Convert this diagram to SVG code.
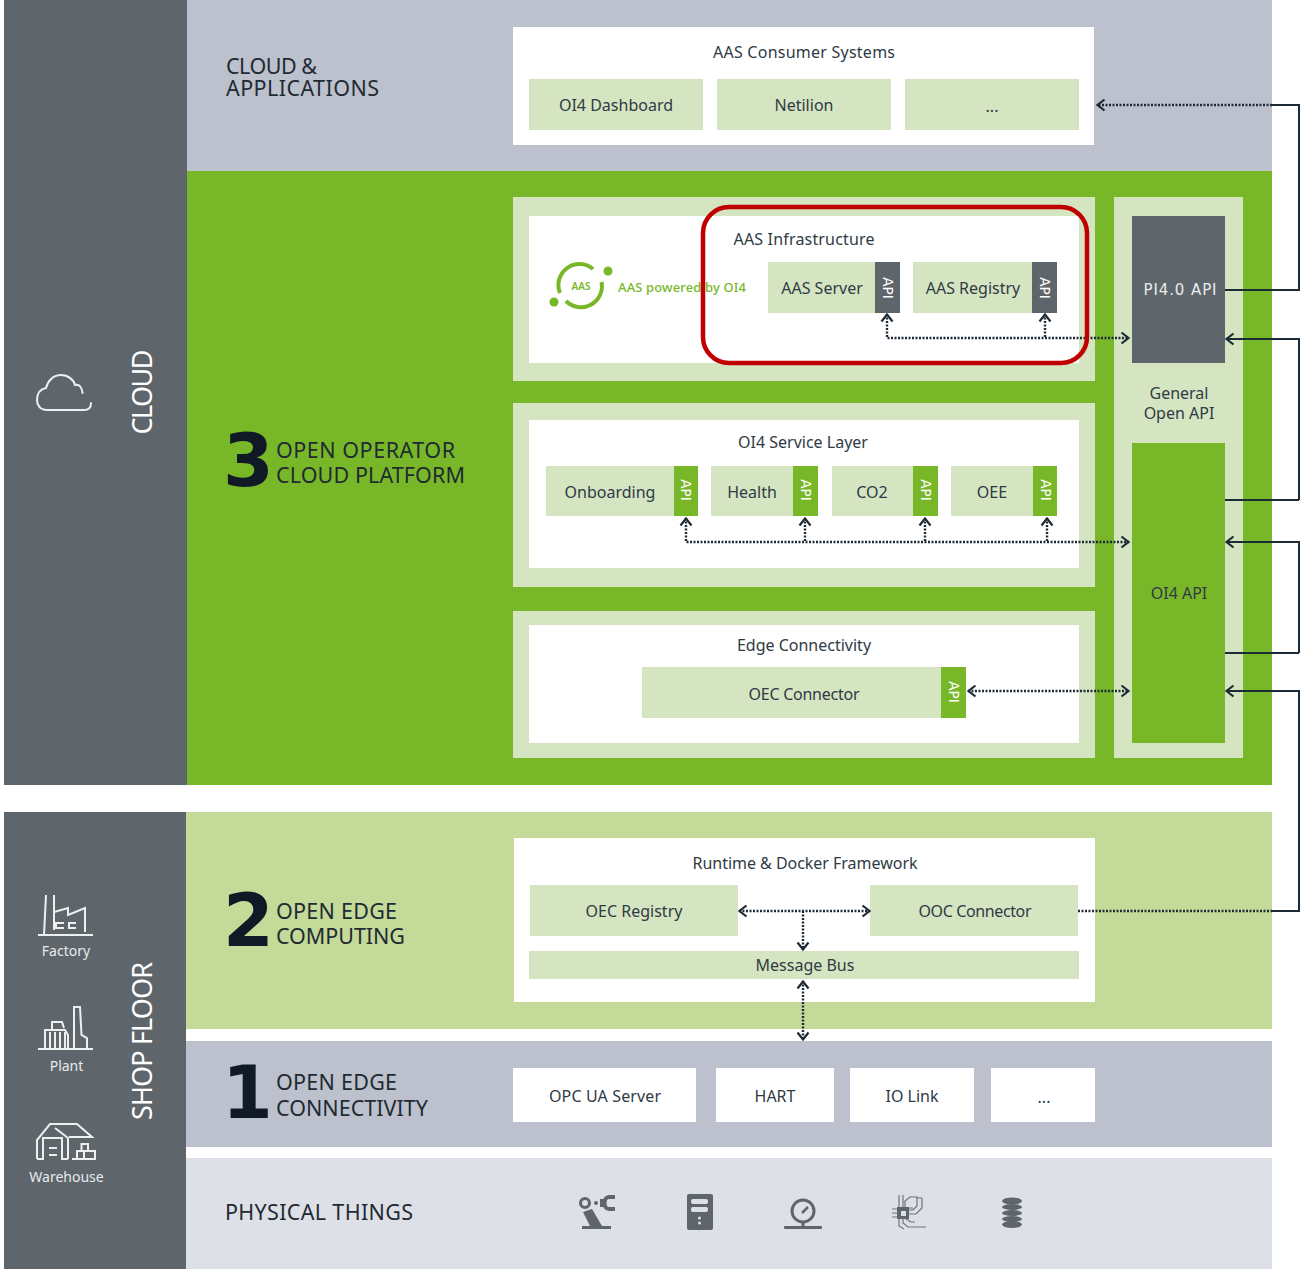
<svg xmlns="http://www.w3.org/2000/svg" width="1303" height="1269" viewBox="0 0 1303 1269">
<style>
text{font-family:"Noto Sans","Open Sans","Liberation Sans",sans-serif;fill:#2f3a44;font-size:16px}
.m{text-anchor:middle}
.h{font-size:21.5px;fill:#1f2a33}
.n{font-size:73px;font-weight:700;fill:#101a26;font-family:"DejaVu Sans",sans-serif}
.sm{font-size:14px;fill:#e8eaeb}
.api{font-size:13.500px;fill:#fff;font-family:"DejaVu Sans",sans-serif}
.side{fill:#fff;font-size:27px;text-anchor:middle}
.pale{fill:#d5e5c2}
.white{fill:#fff}
.grey{fill:#5f666b}
.green{fill:#78b828}
.ln{fill:none;stroke:#1d2b36;stroke-width:2}
.dot{fill:none;stroke:#1d2b36;stroke-width:2.400;stroke-dasharray:2 1.500}
.ic{fill:none;stroke:#eef0f0;stroke-width:2}
.ph{fill:#5f666b}
.phl{fill:none;stroke:#5f666b;stroke-width:3}
</style>
<defs>
<marker id="a" viewBox="0 0 12 14" refX="10.500" refY="7" markerWidth="12" markerHeight="14" markerUnits="userSpaceOnUse" orient="auto-start-reverse">
<path d="M3 1.500L10 7L3 12.500" fill="none" stroke="#1d2b36" stroke-width="2.200"/>
</marker>
</defs>
<rect width="1303" height="1269" fill="#fff"/>
<g id="bands">
<rect x="187" y="0" width="1085" height="171" fill="#bcc1cd"/>
<rect x="187" y="171" width="1085" height="614" fill="#78b828"/>
<rect x="186" y="812" width="1086" height="217" fill="#c4da98"/>
<rect x="186" y="1041" width="1086" height="106" fill="#bcc1cd"/>
<rect x="186" y="1158" width="1086" height="111" fill="#dde0e7"/>
</g>
<g id="cloud-column">
<rect x="4" y="0" width="183" height="785" fill="#5f666b"/>
<path class="ic" d="M91 403C91 408 88 410 84 410H47C40 410 37 405 37 400C37 393 41 389 46 388C48 380 54 375 61 375C68 375 74 380 75 385C80 384 82 388 82.500 393" stroke-linecap="round"/>
<text class="side" transform="translate(152,392) rotate(-90)" textLength="85" lengthAdjust="spacing">CLOUD</text>
</g>
<g id="shopfloor-column">
<rect x="4" y="812" width="182" height="457" fill="#5f666b"/>
<path class="ic" d="M38 935H93M44 935L46 895M54 895V930M54 912L68 908V915L85 908V932M64 923H56V928H64M76 923H69V928H76"/>
<text class="m sm" x="66" y="956">Factory</text>
<path class="ic" d="M38 1049H93M74 1048V1007H80L81.500 1035L87 1038V1048M45 1048V1030H65L68 1035V1048M50 1048V1032M55 1048V1032M60 1048V1032M65 1048V1032M52 1030V1022H62L64 1028"/>
<text class="m sm" x="66.500" y="1071">Plant</text>
<path class="ic" d="M37 1159V1140L50 1124H77L92 1137H69M55 1128L68 1138V1159M37 1159H43V1138H62V1159H68M49 1148H57M49 1155H57M72 1159H95V1151H88V1144H81.500V1151H77V1159M77 1151H88M84 1151V1159"/>
<text class="m sm" x="66.500" y="1182">Warehouse</text>
<text class="side" transform="translate(152,1041) rotate(-90)" textLength="158" lengthAdjust="spacing">SHOP FLOOR</text>
</g>
<g id="band-labels">
<text class="h" x="226" y="74" textLength="91" lengthAdjust="spacing">CLOUD &amp;</text>
<text class="h" x="226" y="96" textLength="153" lengthAdjust="spacing">APPLICATIONS</text>
<text class="n" x="223" y="486">3</text>
<text class="h" x="276" y="458" textLength="179" lengthAdjust="spacing">OPEN OPERATOR</text>
<text class="h" x="276" y="483" textLength="189" lengthAdjust="spacing">CLOUD PLATFORM</text>
<text class="n" x="223" y="946">2</text>
<text class="h" x="276" y="919" textLength="121" lengthAdjust="spacing">OPEN EDGE</text>
<text class="h" x="276" y="944" textLength="129" lengthAdjust="spacing">COMPUTING</text>
<text class="n" x="222" y="1118">1</text>
<text class="h" x="276" y="1090" textLength="121" lengthAdjust="spacing">OPEN EDGE</text>
<text class="h" x="276" y="1116" textLength="152" lengthAdjust="spacing">CONNECTIVITY</text>
<text class="h" x="225" y="1220" textLength="188" lengthAdjust="spacing">PHYSICAL THINGS</text>
</g>
<g id="consumer-systems">
<rect class="white" x="513" y="27" width="581" height="118"/>
<text class="m" x="804" y="58" textLength="182" lengthAdjust="spacing">AAS Consumer Systems</text>
<rect class="pale" x="529" y="79" width="174" height="51"/><text class="m" x="616" y="110.500">OI4 Dashboard</text>
<rect class="pale" x="717" y="79" width="174" height="51"/><text class="m" x="804" y="110.500">Netilion</text>
<rect class="pale" x="905" y="79" width="174" height="51"/><text class="m" x="992" y="112">...</text>
</g>
<g id="aas-infrastructure">
<rect class="pale" x="513" y="197" width="582" height="184"/>
<rect class="white" x="529" y="216" width="550" height="147"/>
<g id="aas-logo">
<path d="M560 293A21 21 0 0 1 593 269M601.500 282A21 21 0 0 1 566 301" fill="none" stroke="#78b828" stroke-width="4"/>
<circle cx="608" cy="271" r="4.500" fill="#78b828"/><circle cx="554" cy="302" r="4.500" fill="#78b828"/>
<text class="m" x="581" y="290" style="font-size:10px;fill:#78b828;font-weight:600">AAS</text>
</g>
<text x="618" y="292" style="font-size:13px;fill:#78b828;font-weight:500" textLength="128" lengthAdjust="spacing">AAS powered by OI4</text>
<text class="m" x="804" y="245" textLength="141" lengthAdjust="spacing">AAS Infrastructure</text>
<rect class="pale" x="768" y="262" width="132" height="51"/>
<rect class="grey" x="875" y="262" width="25" height="51"/>
<text class="m" x="822" y="293.500">AAS Server</text>
<text class="api m" transform="translate(883,288) rotate(90)">API</text>
<rect class="pale" x="913" y="262" width="144" height="51"/>
<rect class="grey" x="1032" y="262" width="25" height="51"/>
<text class="m" x="973" y="293.500">AAS Registry</text>
<text class="api m" transform="translate(1040,288) rotate(90)">API</text>
</g>
<g id="service-layer">
<rect class="pale" x="513" y="403" width="582" height="184"/>
<rect class="white" x="529" y="420" width="550" height="148"/>
<text class="m" x="803" y="447.500">OI4 Service Layer</text>
<rect class="pale" x="546" y="466" width="152" height="50"/><rect class="green" x="674" y="466" width="24" height="50"/>
<text class="m" x="610" y="497.500">Onboarding</text>
<text class="api m" transform="translate(681,490) rotate(90)">API</text>
<rect class="pale" x="711" y="466" width="107" height="50"/><rect class="green" x="793" y="466" width="25" height="50"/>
<text class="m" x="752" y="497.500">Health</text>
<text class="api m" transform="translate(801,490) rotate(90)">API</text>
<rect class="pale" x="832" y="466" width="106" height="50"/><rect class="green" x="913" y="466" width="25" height="50"/>
<text class="m" x="872" y="497.500">CO2</text>
<text class="api m" transform="translate(921,490) rotate(90)">API</text>
<rect class="pale" x="951" y="466" width="106" height="50"/><rect class="green" x="1033" y="466" width="24" height="50"/>
<text class="m" x="992" y="497.500">OEE</text>
<text class="api m" transform="translate(1041,490) rotate(90)">API</text>
</g>
<g id="edge-connectivity">
<rect class="pale" x="513" y="611" width="582" height="147"/>
<rect class="white" x="529" y="625" width="550" height="118"/>
<text class="m" x="804" y="650.500">Edge Connectivity</text>
<rect class="pale" x="642" y="667" width="324" height="51"/><rect class="green" x="941" y="667" width="25" height="51"/>
<text class="m" x="804" y="699.500" textLength="111" lengthAdjust="spacing">OEC Connector</text>
<text class="api m" transform="translate(949,692) rotate(90)">API</text>
</g>
<g id="general-open-api">
<rect class="pale" x="1114" y="197" width="129" height="561"/>
<rect class="grey" x="1132" y="216" width="93" height="147"/>
<text class="m" x="1180" y="295" style="fill:#e8eaeb;font-family:'DejaVu Sans',sans-serif;font-size:15px" textLength="73" lengthAdjust="spacing">PI4.0 API</text>
<text class="m" x="1179" y="399">General</text>
<text class="m" x="1179" y="419">Open API</text>
<rect class="green" x="1132" y="443" width="93" height="300"/>
<text class="m" x="1179" y="599">OI4 API</text>
</g>
<g id="runtime-framework">
<rect class="white" x="514" y="838" width="581" height="164"/>
<text class="m" x="805" y="868.500" textLength="225" lengthAdjust="spacing">Runtime &amp; Docker Framework</text>
<rect class="pale" x="530" y="885" width="208" height="51"/><text class="m" x="634" y="917">OEC Registry</text>
<rect class="pale" x="870" y="885" width="208" height="51"/><text class="m" x="975" y="917" textLength="113" lengthAdjust="spacing">OOC Connector</text>
<rect class="pale" x="529" y="951" width="550" height="28"/><text class="m" x="805" y="971">Message Bus</text>
</g>
<g id="connectivity-items">
<rect class="white" x="513" y="1068" width="183" height="54"/><text class="m" x="605" y="1101.500" textLength="112" lengthAdjust="spacing">OPC UA Server</text>
<rect class="white" x="716" y="1068" width="118" height="54"/><text class="m" x="775" y="1101.500">HART</text>
<rect class="white" x="850" y="1068" width="124" height="54"/><text class="m" x="912" y="1101.500">IO Link</text>
<rect class="white" x="991" y="1068" width="104" height="54"/><text class="m" x="1044" y="1103">...</text>
</g>
<g id="physical-icons">
<circle class="phl" cx="585" cy="1203" r="4.500"/><circle class="ph" cx="596" cy="1203" r="2"/>
<path class="phl" style="stroke-width:4" d="M615 1197H609C603 1197 603 1209 609 1209H615"/>
<rect class="ph" x="600" y="1199" width="4" height="8"/>
<path class="ph" d="M583 1212L592 1209L602 1226H590Z"/><rect class="ph" x="582" y="1226" width="29" height="3"/>
<rect class="ph" x="687" y="1194" width="26" height="36" rx="2"/>
<rect x="691" y="1199" width="17" height="5" rx="2" fill="#dde0e7"/><rect x="691" y="1207" width="17" height="5" rx="2" fill="#dde0e7"/>
<circle cx="699.500" cy="1218" r="1.500" fill="#dde0e7"/><circle cx="699.500" cy="1223" r="1.500" fill="#dde0e7"/>
<circle class="phl" cx="803" cy="1211" r="11"/><path class="phl" d="M803 1222V1227"/><rect class="ph" x="784" y="1226" width="38" height="3" rx="1"/>
<path d="M802 1213L808 1207" stroke="#5f666b" stroke-width="2.500"/>
<rect class="ph" x="897" y="1207" width="12" height="12"/><rect x="901" y="1211" width="5" height="5" fill="#dde0e7"/>
<path d="M892 1209H897M892 1213H897M892 1217H897M899 1195V1207M903 1195V1207M899 1219V1226L904 1229M903 1219V1223L908 1227H926M906 1219L911 1222H915M909 1214H916L922 1208V1198M909 1210H913L917 1206V1198H922M905 1207V1201L910 1197H918M909 1208H913" fill="none" stroke="#6e757a" stroke-width="1.200"/>
<g class="ph"><ellipse cx="1012" cy="1201" rx="10" ry="3.500"/><ellipse cx="1012" cy="1207" rx="10" ry="3"/><ellipse cx="1012" cy="1213" rx="10" ry="3"/><ellipse cx="1012" cy="1219" rx="10" ry="3"/><ellipse cx="1012" cy="1224.500" rx="10" ry="3.500"/></g>
</g>
<g id="connectors">
<path class="ln" d="M1272 105H1299V290H1225"/>
<path class="ln" d="M1299 500V339H1226" marker-end="url(#a)"/>
<path class="ln" d="M1225 500H1299"/>
<path class="ln" d="M1299 653V542H1226" marker-end="url(#a)"/>
<path class="ln" d="M1225 653H1299"/>
<path class="ln" d="M1272 911H1299V691H1226" marker-end="url(#a)"/>
<path class="dot" d="M1272 105H1097" marker-end="url(#a)"/>
<path class="dot" d="M1078 911H1272"/>
<path class="dot" d="M887 314V338H1129" marker-start="url(#a)" marker-end="url(#a)"/>
<path class="dot" d="M1045 314V338" marker-start="url(#a)"/>
<path class="dot" d="M686 518V542H1129" marker-start="url(#a)" marker-end="url(#a)"/>
<path class="dot" d="M805 518V542" marker-start="url(#a)"/>
<path class="dot" d="M925 518V542" marker-start="url(#a)"/>
<path class="dot" d="M1047 518V542" marker-start="url(#a)"/>
<path class="dot" d="M968 691H1129" marker-start="url(#a)" marker-end="url(#a)"/>
<path class="dot" d="M739 911H870" marker-start="url(#a)" marker-end="url(#a)"/>
<path class="dot" d="M803 911V950" marker-end="url(#a)"/>
<path class="dot" d="M803 981V1040" marker-start="url(#a)" marker-end="url(#a)"/>
</g>
<rect id="highlight" x="703" y="207" width="384" height="156" rx="26" fill="none" stroke="#c00000" stroke-width="4.500"/>
</svg>
